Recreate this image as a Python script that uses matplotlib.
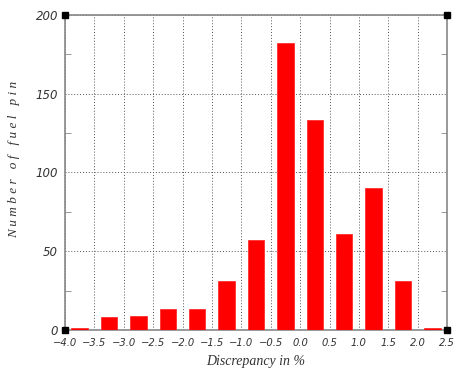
import numpy as np
import matplotlib.pyplot as plt
from matplotlib.ticker import MultipleLocator

# bin centres (%) and counts
centres = [-3.75, -3.25, -2.75, -2.25, -1.75, -1.25, -0.75, -0.25, 0.25, 0.75, 1.25, 1.75, 2.25]
counts = [1, 8, 9, 13, 13, 31, 57, 182, 133, 61, 90, 31, 1]

xticks = np.arange(-4.0, 2.51, 0.5)
yticks = [0, 50, 100, 150, 200]

fig = plt.figure(figsize=(4.56, 3.72), dpi=100)
ax = fig.add_axes([0.1425, 0.113, 0.838, 0.847])

ax.bar(centres, counts, width=0.28, color="#ff0000", edgecolor="#ff3030", linewidth=0.6, zorder=3)

ax.set_xlim(-4.0, 2.5)
ax.set_ylim(0, 200)
ax.set_xticks(xticks)
ax.set_xticklabels([f"{v:.1f}".replace("-", "\u2212") for v in xticks])
ax.set_yticks(yticks)
ax.yaxis.set_minor_locator(MultipleLocator(25))

ax.grid(True, which="major", color="#555555", linestyle=(0, (1, 2)), linewidth=0.7, zorder=1)
for s in ax.spines.values():
    s.set_color("#888888")
    s.set_linewidth(1.2)

ax.tick_params(which="both", direction="in", color="#888888", top=False, right=True, length=4)
ax.tick_params(axis="x", which="major", length=0, pad=6)
ax.tick_params(axis="y", which="major", length=0, pad=5)
for lab in ax.get_xticklabels():
    lab.set_fontstyle("italic")
    lab.set_fontsize(7.2)
    lab.set_color("#333333")
for lab in ax.get_yticklabels():
    lab.set_fontstyle("italic")
    lab.set_fontsize(8.5)
    lab.set_color("#333333")

# black squares at the corners
ax.plot([-4.0, 2.5, -4.0, 2.5], [0, 0, 200, 200], "s", color="black", ms=5, clip_on=False, zorder=5)

ax.set_xlabel("Discrepancy in %", fontsize=10, fontstyle="italic", family="Liberation Serif", color="#333333",
              labelpad=5)
ax.set_ylabel("N u m b e r   o f   f u e l   p i n", fontsize=9.5, fontstyle="italic", family="Liberation Serif",
              color="#333333")
ax.yaxis.set_label_coords(-0.118, 0.54)

plt.savefig("out.png", dpi=100)
